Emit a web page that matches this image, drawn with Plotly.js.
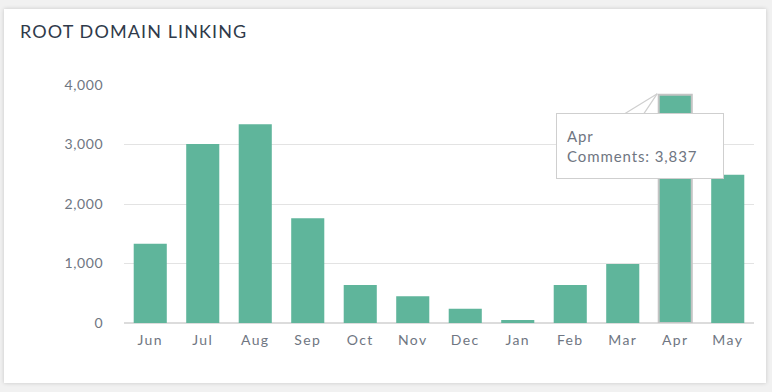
<!DOCTYPE html>
<html>
<head>
<meta charset="utf-8">
<script src="https://cdn.plot.ly/plotly-3.0.1.min.js"></script>
<style>
  html, body { margin:0; padding:0; background:#f1f1f1; width:772px; height:392px; overflow:hidden; }
  #card { position:absolute; left:4px; top:9px; width:762px; height:374px; background:#fff;
          box-shadow:0 0 4px rgba(0,0,0,0.18); }
  #chart { position:absolute; left:0; top:0; width:772px; height:392px; }
  #chart .gtitle { letter-spacing: 1.1px; }
  #chart .xtick text { letter-spacing: 1.4px; }
  #chart .ytick text { letter-spacing: 0.6px; }
  #chart .annotation-text { letter-spacing: 0.9px; }
</style>
</head>
<body>
<div id="card"></div>
<div id="chart"></div>
<script>
const months = ["Jun","Jul","Aug","Sep","Oct","Nov","Dec","Jan","Feb","Mar","Apr","May"];
const comments = [1330, 3010, 3340, 1760, 640, 450, 240, 50, 640, 990, 3837, 2490];
const yTicks = [0, 1000, 2000, 3000, 4000];
const yTickLabels = ["0", "1,000", "2,000", "3,000", "4,000"];
const highlighted = "Apr";

const hiIdx = months.indexOf(highlighted);
const lineColors = months.map(m => m === highlighted ? "#c4c4c4" : "rgba(0,0,0,0)");
const lineWidths = months.map(m => m === highlighted ? 2 : 0);

const trace = {
  type: "bar",
  x: months,
  y: comments,
  marker: { color: "#5fb59b", line: { color: lineColors, width: lineWidths } },
  hoverinfo: "none"
};

const fontFam = "Lato, 'Open Sans', sans-serif";
const tipColor = "#cfcfcf";

const wedge = (ax) => ({
  x: months[hiIdx], y: comments[hiIdx], xref: "x", yref: "y",
  xshift: -18, yshift: 1,
  text: "", showarrow: true, arrowhead: 0, arrowwidth: 1.2, arrowcolor: tipColor,
  ax: ax, ay: 21, borderwidth: 0
});

const layout = {
  width: 772, height: 392,
  paper_bgcolor: "rgba(0,0,0,0)",
  plot_bgcolor: "rgba(0,0,0,0)",
  margin: { l: 124, r: 18, t: 85, b: 69 },
  bargap: 0.37,
  showlegend: false,
  title: {
    text: "ROOT DOMAIN LINKING",
    xref: "container", yref: "container",
    x: 20/772, xanchor: "left",
    y: 1 - 32/392, yanchor: "middle",
    font: { family: fontFam, size: 18, color: "#2f3a4a" }
  },
  xaxis: {
    type: "category",
    tickfont: { family: fontFam, size: 14, color: "#6f7682" },
    ticks: "outside", ticklen: 4, tickcolor: "rgba(0,0,0,0)",
    showgrid: false, showline: false, zeroline: false
  },
  yaxis: {
    range: [0, 4000],
    tickvals: yTicks, ticktext: yTickLabels,
    tickfont: { family: fontFam, size: 14, color: "#6f7682" },
    ticks: "outside", ticklen: 17, tickcolor: "rgba(0,0,0,0)",
    showgrid: true, gridcolor: "#e3e3e3", gridwidth: 1,
    zeroline: true, zerolinecolor: "#dcdcdc", zerolinewidth: 2,
    showline: false
  },
  annotations: [
    wedge(-34),
    wedge(-14),
    {
      x: months[hiIdx], y: comments[hiIdx], xref: "x", yref: "y",
      xshift: -18, yshift: 1,
      text: months[hiIdx] + "<br>Comments: " + comments[hiIdx].toLocaleString("en-US"),
      align: "left", valign: "middle",
      width: 146, height: 44,
      showarrow: true, arrowhead: 0, arrowwidth: 0.1, arrowcolor: "rgba(0,0,0,0)",
      ax: -17, ay: 52,
      bgcolor: "#ffffff", bordercolor: tipColor, borderwidth: 1, borderpad: 10,
      font: { family: fontFam, size: 15, color: "#6f7682" }
    }
  ]
};

Plotly.newPlot("chart", [trace], layout, { displayModeBar: false, staticPlot: true });
</script>
</body>
</html>
